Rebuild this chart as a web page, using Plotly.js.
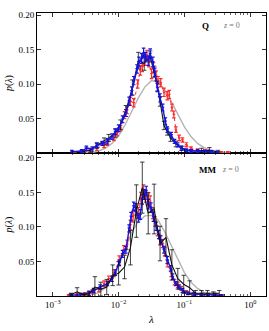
<!DOCTYPE html>
<html><head><meta charset="utf-8">
<script src="https://cdn.plot.ly/plotly-3.0.1.min.js"></script>
<style>html,body{margin:0;padding:0;background:#fff}</style>
</head><body><div id="chart" style="width:269px;height:331px"></div>
<script>
// ---------- Top panel: Q, z = 0 (x values are log10 lambda) ----------
const qBlueLogX = [-2.71,-2.56,-2.49,-2.40,-2.33,-2.25,-2.17,-2.10,-2.05,-2.00,-1.94,-1.89,-1.84,-1.80,-1.77,-1.72,-1.69,-1.65,-1.62,-1.59,-1.55,-1.52,-1.48,-1.45,-1.41,-1.37,-1.33,-1.29,-1.26,-1.20,-1.15,-1.10,-1.05,-0.97,-0.90,-0.80,-0.69,-0.59,-0.49];
const qBlueP    = [0.002,0.003,0.007,0.006,0.011,0.014,0.017,0.024,0.031,0.036,0.049,0.058,0.075,0.090,0.105,0.122,0.132,0.137,0.145,0.139,0.134,0.144,0.132,0.117,0.095,0.080,0.066,0.046,0.034,0.026,0.017,0.012,0.007,0.004,0.003,0.003,0.002,0.002,0.001];
const qBlueErr  = [0.002,0.002,0.003,0.003,0.003,0.003,0.004,0.004,0.004,0.005,0.005,0.005,0.006,0.006,0.006,0.006,0.007,0.007,0.007,0.007,0.007,0.007,0.007,0.006,0.006,0.006,0.005,0.005,0.004,0.004,0.003,0.003,0.003,0.002,0.002,0.002,0.002,0.002,0.001];

const qRedLogX = [-2.68,-2.53,-2.43,-2.33,-2.22,-2.17,-2.07,-2.02,-1.97,-1.91,-1.87,-1.82,-1.77,-1.71,-1.67,-1.64,-1.60,-1.57,-1.54,-1.50,-1.47,-1.43,-1.40,-1.36,-1.31,-1.26,-1.23,-1.19,-1.16,-1.13,-1.08,-1.03,-0.97,-0.90,-0.80,-0.69,-0.59,-0.44,-0.34];
const qRedP    = [0.001,0.002,0.004,0.007,0.011,0.014,0.022,0.029,0.036,0.055,0.062,0.075,0.073,0.100,0.120,0.125,0.134,0.142,0.132,0.115,0.124,0.112,0.105,0.102,0.088,0.083,0.085,0.066,0.056,0.034,0.022,0.019,0.012,0.007,0.004,0.003,0.002,0.001,0.001];
const qRedErr  = [0.001,0.002,0.002,0.003,0.003,0.003,0.004,0.004,0.004,0.005,0.005,0.006,0.006,0.006,0.007,0.007,0.007,0.007,0.007,0.007,0.007,0.007,0.006,0.006,0.006,0.006,0.006,0.005,0.005,0.004,0.004,0.003,0.003,0.002,0.002,0.002,0.001,0.001,0.001];

const qBlackLogX = [-2.56,-2.43,-2.33,-2.22,-2.15,-2.05,-1.97,-1.89,-1.79,-1.70,-1.61,-1.52,-1.46,-1.41,-1.37,-1.31,-1.26,-1.21,-1.13,-1.03,-0.90,-0.74,-0.62,-0.49];
const qBlackP    = [0.002,0.004,0.011,0.017,0.022,0.029,0.041,0.061,0.095,0.134,0.130,0.140,0.118,0.097,0.075,0.040,0.031,0.022,0.013,0.007,0.003,0.004,0.004,0.002];
const qBlackErr  = [0.002,0.003,0.004,0.005,0.005,0.006,0.007,0.008,0.011,0.012,0.010,0.008,0.008,0.007,0.007,0.006,0.005,0.005,0.004,0.003,0.002,0.003,0.004,0.002];

const qFitLogX = [-2.5,-2.4,-2.3,-2.2,-2.1,-2.0,-1.9,-1.8,-1.7,-1.6,-1.5,-1.4,-1.3,-1.2,-1.1,-1.0,-0.9,-0.8,-0.7,-0.6,-0.5,-0.4,-0.3];
const qFitP    = [0.0005,0.001,0.003,0.007,0.014,0.025,0.041,0.060,0.080,0.096,0.105,0.103,0.092,0.075,0.056,0.038,0.024,0.014,0.008,0.004,0.002,0.001,0.0005];

// ---------- Bottom panel: MM, z = 0 ----------
const mBlueLogX = [-2.73,-2.58,-2.45,-2.38,-2.28,-2.17,-2.10,-2.05,-1.99,-1.94,-1.89,-1.84,-1.81,-1.77,-1.74,-1.70,-1.67,-1.64,-1.61,-1.58,-1.55,-1.51,-1.47,-1.43,-1.39,-1.36,-1.31,-1.26,-1.21,-1.18,-1.13,-1.08,-1.03,-0.95,-0.85,-0.74,-0.64,-0.54,-0.44];
const mBlueP    = [0.001,0.002,0.004,0.008,0.013,0.018,0.025,0.034,0.048,0.061,0.067,0.098,0.115,0.130,0.128,0.113,0.118,0.140,0.147,0.152,0.133,0.128,0.115,0.101,0.089,0.081,0.067,0.052,0.040,0.028,0.018,0.013,0.008,0.004,0.003,0.002,0.002,0.002,0.001];
const mBlueErr  = [0.002,0.002,0.003,0.003,0.003,0.003,0.004,0.004,0.004,0.005,0.005,0.005,0.006,0.006,0.006,0.006,0.007,0.007,0.007,0.007,0.007,0.007,0.007,0.006,0.006,0.006,0.005,0.005,0.004,0.004,0.003,0.003,0.003,0.002,0.002,0.002,0.002,0.002,0.001];

const mRedLogX = [-2.76,-2.63,-2.51,-2.40,-2.30,-2.22,-2.15,-2.07,-1.99,-1.92,-1.87,-1.82,-1.78,-1.74,-1.70,-1.66,-1.62,-1.59,-1.55,-1.52,-1.48,-1.45,-1.41,-1.37,-1.33,-1.30,-1.26,-1.20,-1.15,-1.10,-1.05,-0.97,-0.87,-0.74,-0.64,-0.52,-0.41];
const mRedP    = [0.001,0.002,0.003,0.006,0.009,0.018,0.025,0.033,0.052,0.067,0.074,0.103,0.115,0.125,0.120,0.142,0.152,0.145,0.140,0.137,0.120,0.108,0.094,0.081,0.076,0.064,0.047,0.033,0.020,0.016,0.011,0.006,0.003,0.002,0.002,0.002,0.001];
const mRedErr  = [0.001,0.002,0.002,0.003,0.003,0.004,0.004,0.005,0.006,0.006,0.007,0.007,0.008,0.008,0.008,0.008,0.009,0.009,0.008,0.008,0.008,0.007,0.007,0.007,0.006,0.006,0.005,0.005,0.004,0.004,0.003,0.002,0.002,0.001,0.001,0.001,0.001];

const mBlackLogX = [-2.72,-2.63,-2.54,-2.45,-2.36,-2.27,-2.18,-2.09,-2.00,-1.91,-1.82,-1.73,-1.64,-1.55,-1.46,-1.37,-1.28,-1.19,-1.10,-1.01,-0.92,-0.83,-0.74,-0.65,-0.56,-0.47];
const mBlackP    = [0.002,0.006,0.002,0.003,0.013,0.010,0.013,0.030,0.033,0.042,0.070,0.123,0.157,0.120,0.126,0.076,0.085,0.045,0.025,0.017,0.012,0.004,0.004,0.004,0.003,0.004];
const mBlackErr  = [0.002,0.006,0.002,0.003,0.015,0.010,0.011,0.015,0.017,0.017,0.025,0.038,0.037,0.030,0.036,0.025,0.027,0.022,0.015,0.013,0.010,0.004,0.004,0.004,0.003,0.004];

const mFitLogX = [-2.4,-2.3,-2.2,-2.1,-2.0,-1.9,-1.8,-1.7,-1.6,-1.5,-1.4,-1.3,-1.2,-1.1,-1.0,-0.9,-0.8,-0.7,-0.6,-0.5];
const mFitP    = [0.002,0.005,0.012,0.024,0.043,0.068,0.092,0.108,0.116,0.117,0.110,0.093,0.073,0.052,0.034,0.020,0.011,0.005,0.002,0.0005];

// ---------- labels ----------
const xTickVals = [0.001, 0.01, 0.1, 1];
const xTickText = ['10<sup>−3</sup>', '10<sup>−2</sup>', '10<sup>−1</sup>', '10<sup>0</sup>'];
const yTickVals = [0.05, 0.10, 0.15, 0.20];
const yTickText = ['0.05', '0.10', '0.15', '0.20'];
const panelNames = ['Q', 'MM'];
const redshiftLabel = '<i>z</i> = 0';

const toLin = a => a.map(v => Math.pow(10, v));
const BLUE = '#1414dc', RED = '#ff2a2a', GREY = '#b4b4b4', BLACK = '#111';

function makeTraces(xa, ya, blue, red, black, fit) {
  return {
    fit: {x: toLin(fit[0]), y: fit[1], xaxis: xa, yaxis: ya, mode: 'lines', line: {color: GREY, width: 1.4}, hoverinfo: 'skip'},
    black: {x: toLin(black[0]), y: black[1], xaxis: xa, yaxis: ya, mode: 'lines',
     line: {color: BLACK, width: 1.1},
     error_y: {type: 'data', array: black[2], color: BLACK, thickness: 0.8, width: 2.2}},
    blue: {x: toLin(blue[0]), y: blue[1], xaxis: xa, yaxis: ya, mode: 'lines+markers',
     line: {color: BLUE, width: 1.4}, marker: {symbol: 'triangle-down', size: 3.5, color: BLUE},
     error_y: {type: 'data', array: blue[2], color: BLUE, thickness: 1.2, width: 1.8}},
    red: {x: toLin(red[0]), y: red[1], xaxis: xa, yaxis: ya, mode: 'lines+markers',
     line: {color: RED, width: 1.0, dash: 'dot'}, marker: {symbol: 'triangle-down', size: 3, color: RED},
     error_y: {type: 'data', array: red[2], color: RED, thickness: 1.2, width: 1.8}}
  };
}

const panelQ = makeTraces('x2', 'y2', [qBlueLogX, qBlueP, qBlueErr], [qRedLogX, qRedP, qRedErr], [qBlackLogX, qBlackP, qBlackErr], [qFitLogX, qFitP]);
const panelMM = makeTraces('x', 'y', [mBlueLogX, mBlueP, mBlueErr], [mRedLogX, mRedP, mRedErr], [mBlackLogX, mBlackP, mBlackErr], [mFitLogX, mFitP]);
const data = [panelQ.fit, panelQ.red, panelQ.black, panelQ.blue, panelMM.fit, panelMM.red, panelMM.blue, panelMM.black];

const minorVals = [];
[0.001, 0.01, 0.1, 1].forEach(d => { for (let k = 2; k <= 9; k++) minorVals.push(d * k); });

const FONT = 'Liberation Serif, DejaVu Serif, serif';
const xCommon = {
  type: 'log', range: [-3.24, 0.24], tickvals: xTickVals, ticktext: xTickText,
  ticks: 'inside', ticklen: 4, tickwidth: 0.8, tickcolor: '#000', mirror: 'allticks',
  showline: true, linecolor: '#000', linewidth: 1, showgrid: false, zeroline: false,
  minor: {tickvals: minorVals, ticks: 'inside', ticklen: 2, tickwidth: 0.6, tickcolor: '#000', showgrid: false},
  tickfont: {family: FONT, size: 9, color: '#000'}
};
const yCommon = {
  tickvals: yTickVals, ticktext: yTickText, ticks: 'inside', ticklen: 4, tickwidth: 0.8, tickcolor: '#000',
  mirror: 'allticks', showline: true, linecolor: '#000', linewidth: 1, showgrid: false, zeroline: false,
  tickfont: {family: FONT, size: 9, color: '#000'},
  title: {text: '<i>p</i>(<i>λ</i>)', font: {family: FONT, size: 10, color: '#000'}, standoff: 3}
};

const layout = {
  width: 269, height: 331,
  margin: {l: 37, r: 3, t: 13, b: 35},
  paper_bgcolor: '#fff', plot_bgcolor: '#fff', showlegend: false,
  font: {family: FONT, size: 9, color: '#000'},
  xaxis: Object.assign({}, xCommon, {anchor: 'y', domain: [0, 1],
    title: {text: '<i>λ</i>', font: {family: FONT, size: 11, color: '#000'}, standoff: 6}}),
  xaxis2: Object.assign({}, xCommon, {anchor: 'y2', domain: [0, 1], matches: 'x', showticklabels: false}),
  yaxis: Object.assign({}, yCommon, {anchor: 'x', domain: [0, 0.505], range: [0, 0.207]}),
  yaxis2: Object.assign({}, yCommon, {anchor: 'x2', domain: [0.505, 1], range: [0, 0.203]}),
  annotations: [
    {text: '<b>' + panelNames[0] + '</b>', xref: 'paper', yref: 'y2 domain', x: 0.76, y: 0.955, showarrow: false, font: {family: FONT, size: 9, color: '#000'}},
    {text: redshiftLabel, xref: 'paper', yref: 'y2 domain', x: 0.895, y: 0.955, showarrow: false, font: {family: FONT, size: 8, color: '#777'}},
    {text: '<b>' + panelNames[1] + '</b>', xref: 'paper', yref: 'y domain', x: 0.79, y: 0.93, showarrow: false, font: {family: FONT, size: 9, color: '#000'}},
    {text: redshiftLabel, xref: 'paper', yref: 'y domain', x: 0.89, y: 0.93, showarrow: false, font: {family: FONT, size: 8, color: '#777'}}
  ]
};

Plotly.newPlot('chart', data, layout, {displayModeBar: false, staticPlot: true});
</script></body></html>
